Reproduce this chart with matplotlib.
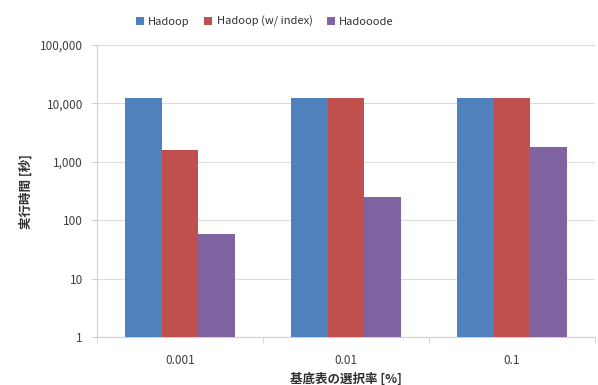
import numpy as np
import matplotlib
matplotlib.use("Agg")
import matplotlib.pyplot as plt
from matplotlib.ticker import FixedLocator, FuncFormatter

plt.rcParams["font.family"] = ["Noto Sans CJK JP", "DejaVu Sans"]

# ---------------------------------------------------------------------------
# Data
# ---------------------------------------------------------------------------
categories = ["0.001", "0.01", "0.1"]
series_names = ["Hadoop", "Hadoop (w/ index)", "Hadooode"]
hadoop = [12200, 12200, 12500]
hadoop_index = [1630, 12200, 12500]
hadooode = [58, 253, 1770]
colors = ["#4F81BD", "#C0504D", "#8064A2"]

# ---------------------------------------------------------------------------
# Plot
# ---------------------------------------------------------------------------
fig = plt.figure(figsize=(5.98, 3.85), dpi=100)
ax = fig.add_axes([0.162, 0.124, 0.833, 0.759])

x = np.arange(len(categories))
width = 0.221
for i, (name, vals, c) in enumerate(zip(series_names,
                                        [hadoop, hadoop_index, hadooode],
                                        colors)):
    ax.bar(x + (i - 1) * width, vals, width, color=c, label=name,
           zorder=3)

ax.set_yscale("log")
ax.set_ylim(1, 100000)
ax.set_xlim(-0.5, len(categories) - 0.5)
ax.yaxis.set_major_locator(FixedLocator([1, 10, 100, 1000, 10000, 100000]))
ax.yaxis.set_minor_locator(FixedLocator([]))
ax.yaxis.set_major_formatter(FuncFormatter(lambda v, p: f"{int(round(v)):,}"))

ax.set_xticks(x)
ax.set_xticklabels(categories)
ax.set_xticks(np.arange(len(categories) + 1) - 0.5, minor=True)
ax.tick_params(axis="x", which="major", length=0, pad=12)
ax.tick_params(axis="x", which="minor", length=4, color="#D0D0D0")
ax.tick_params(axis="y", which="major", length=4, color="#D0D0D0", pad=6)
ax.tick_params(labelsize=8.5, labelcolor="#404040")

ax.grid(axis="y", color="#DCDCDC", linewidth=0.8, zorder=0)
for s in ["top", "right"]:
    ax.spines[s].set_visible(False)
for s in ["left", "bottom"]:
    ax.spines[s].set_color("#D0D0D0")

ax.set_ylabel("実行時間 [秒]", fontsize=9, fontweight="bold",
              color="#303030", labelpad=5)
ax.set_xlabel("基底表の選択率 [%]", fontsize=9, fontweight="bold",
              color="#303030", labelpad=4)

fig.legend(loc="upper center", bbox_to_anchor=(0.443, 0.985), ncol=3,
           frameon=False, fontsize=8, handlelength=0.7, handleheight=0.7,
           handletextpad=0.4, columnspacing=1.3, labelcolor="#303030")

fig.savefig("out.png", dpi=100)
